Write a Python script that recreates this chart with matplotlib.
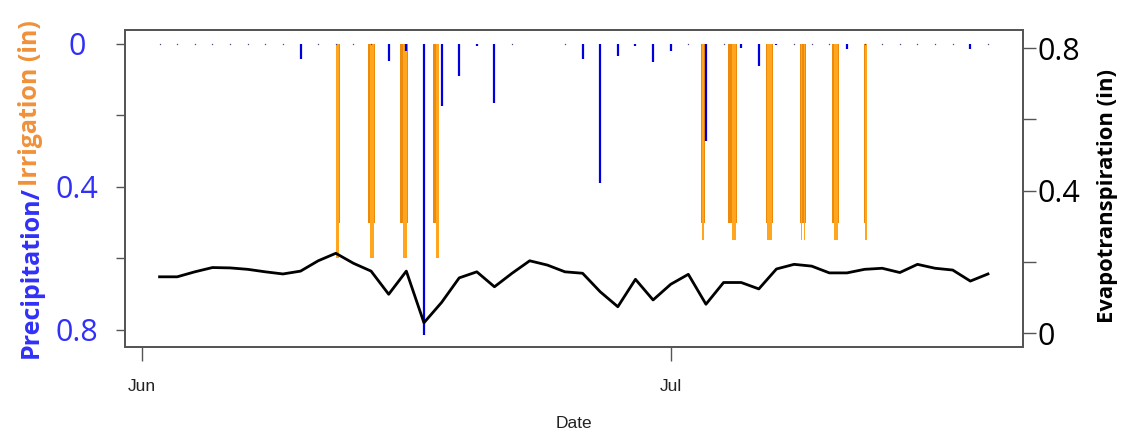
import numpy as np
import pandas as pd
import matplotlib
matplotlib.use('Agg')
import matplotlib.pyplot as plt
import matplotlib.dates as mdates

# daily series, June 2 .. July 19
days = pd.date_range('2015-06-02', periods=48, freq='D')

precip = [0, 0, 0, 0, 0, 0, 0, 0, 0.043, 0,
          0, 0, 0, 0.047, 0.02, 0.815, 0.173, 0.091, 0.006, 0.164,
          0, np.nan, np.nan, 0, 0.043, 0.39, 0.034, 0.005, 0.05, 0.021,
          0, 0.273, 0, 0.012, 0.063, 0.004, 0, 0, 0, 0.015,
          0, 0, 0, 0, 0, 0, 0.015, 0]

et = [0.158, 0.158, 0.172, 0.184, 0.183, 0.179, 0.172, 0.166, 0.174, 0.203,
      0.224, 0.196, 0.174, 0.109, 0.174, 0.029, 0.086, 0.155, 0.172, 0.130,
      0.168, 0.203, 0.191, 0.172, 0.168, 0.116, 0.074, 0.151, 0.093, 0.137,
      0.165, 0.081, 0.142, 0.142, 0.124, 0.180, 0.193, 0.188, 0.169, 0.169,
      0.179, 0.182, 0.170, 0.193, 0.182, 0.177, 0.146, 0.166]

# irrigation events (start, duration in hours, depth in inches)
irr1_start = ['2015-06-12 00:00', '2015-06-13 20:00', '2015-06-15 15:00', '2015-06-17 12:30',
              '2015-07-02 17:00', '2015-07-04 06:00', '2015-07-06 09:30', '2015-07-08 07:30',
              '2015-07-10 03:00', '2015-07-11 23:45']
irr1_hours = [5.5, 9, 11.3, 4, 5.3, 12, 10, 9, 10.3, 2.6]
irr1_depth = [0.5, 0.5, 0.5, 0.5, 0.5, 0.5, 0.5, 0.5, 0.5, 0.5]

irr2_start = ['2015-06-12 00:30', '2015-06-13 22:15', '2015-06-15 19:00', '2015-06-17 16:15',
              '2015-07-02 18:00', '2015-07-04 11:15', '2015-07-06 11:45', '2015-07-08 09:00',
              '2015-07-08 13:15', '2015-07-10 06:00', '2015-07-12 00:30']
irr2_hours = [3.4, 5.5, 6.2, 4, 3.1, 6.2, 6.2, 2, 2.2, 6, 2.6]
irr2_depth = [0.6, 0.6, 0.6, 0.6, 0.55, 0.55, 0.55, 0.55, 0.55, 0.55, 0.55]

blue = '#0000DD'
txt_blue = '#3030F8'
txt_orange = '#F0913A'
sans = ['Open Sans', 'DejaVu Sans']
narrow = ['Liberation Sans Narrow', 'Liberation Sans', 'DejaVu Sans']

fig = plt.figure(figsize=(11.42, 4.37), dpi=100)
ax = fig.add_axes([0.1095, 0.206, 0.786, 0.7254])

x = mdates.date2num(days)
p = np.array(precip, dtype=float)

# irrigation bars hanging from the top
ax.bar(mdates.date2num(pd.to_datetime(irr1_start)), irr1_depth,
       width=np.array(irr1_hours) / 24, align='edge', color='#EC8A0C', linewidth=0)
ax.bar(mdates.date2num(pd.to_datetime(irr2_start)), irr2_depth,
       width=np.array(irr2_hours) / 24, align='edge', color='#FFA51E', linewidth=0)

# precipitation
ax.vlines(x, 0, p, color=blue, linewidth=1.6)
dry = p == 0
ax.plot(x[dry], p[dry], ls='none', marker='s', ms=0.9, mew=0, color='#4a4a80')

ax.set_ylim(0.848, -0.039)
ax.set_yticks([0, 0.2, 0.4, 0.6, 0.8])
ax.set_yticklabels(['0', '', '0.4', '', '0.8'], family=sans, fontsize=22, color=txt_blue)
for lab in ax.get_yticklabels():
    lab.set_horizontalalignment('center')
ax.tick_params(axis='y', length=6.5, width=1, color='#555555', pad=28)

ax.set_xlim(mdates.date2num(pd.Timestamp('2015-05-31 01:00')),
            mdates.date2num(pd.Timestamp('2015-07-20 23:15')))
ax.xaxis.set_major_locator(mdates.MonthLocator())
ax.xaxis.set_major_formatter(mdates.DateFormatter('%b'))
ax.tick_params(axis='x', length=10, width=1, color='#555555', pad=13,
               labelsize=12.5, labelcolor='#222222')
for lab in ax.get_xticklabels():
    lab.set_family(narrow)
ax.set_xlabel('Date', family=narrow, fontsize=12.5, color='#222222', labelpad=16)

for s in ax.spines.values():
    s.set_color('#555555')
    s.set_linewidth(1.3)

# evapotranspiration
ax2 = ax.twinx()
ax2.plot(x, et, color='black', linewidth=2)
ax2.set_ylim(-0.039, 0.851)
ax2.set_yticks([0, 0.2, 0.4, 0.6, 0.8])
ax2.set_yticklabels(['0', '', '0.4', '', '0.8'], family=sans, fontsize=22, color='black')
ax2.tick_params(axis='y', length=9, width=1, color='#555555', pad=2)
ax2.set_ylabel('Evapotranspiration (in)', family=sans, fontsize=15.8, fontweight='bold')
ax2.yaxis.set_label_coords(1.083, 0.475)
for s in ax2.spines.values():
    s.set_color('#555555')
    s.set_linewidth(1.3)

# two-colour left axis label
t1 = fig.text(31 / 1142, 1 - 358 / 437, 'Precipitation/', rotation=90, ha='center',
              va='bottom', color=txt_blue, family=sans, fontsize=18, fontweight='bold')
fig.canvas.draw()
bb = t1.get_window_extent().transformed(fig.transFigure.inverted())
fig.text(31 / 1142, bb.y1, 'Irrigation (in)', rotation=90, ha='center', va='bottom',
         color=txt_orange, family=sans, fontsize=18, fontweight='bold')

plt.savefig('out.png', dpi=100)
